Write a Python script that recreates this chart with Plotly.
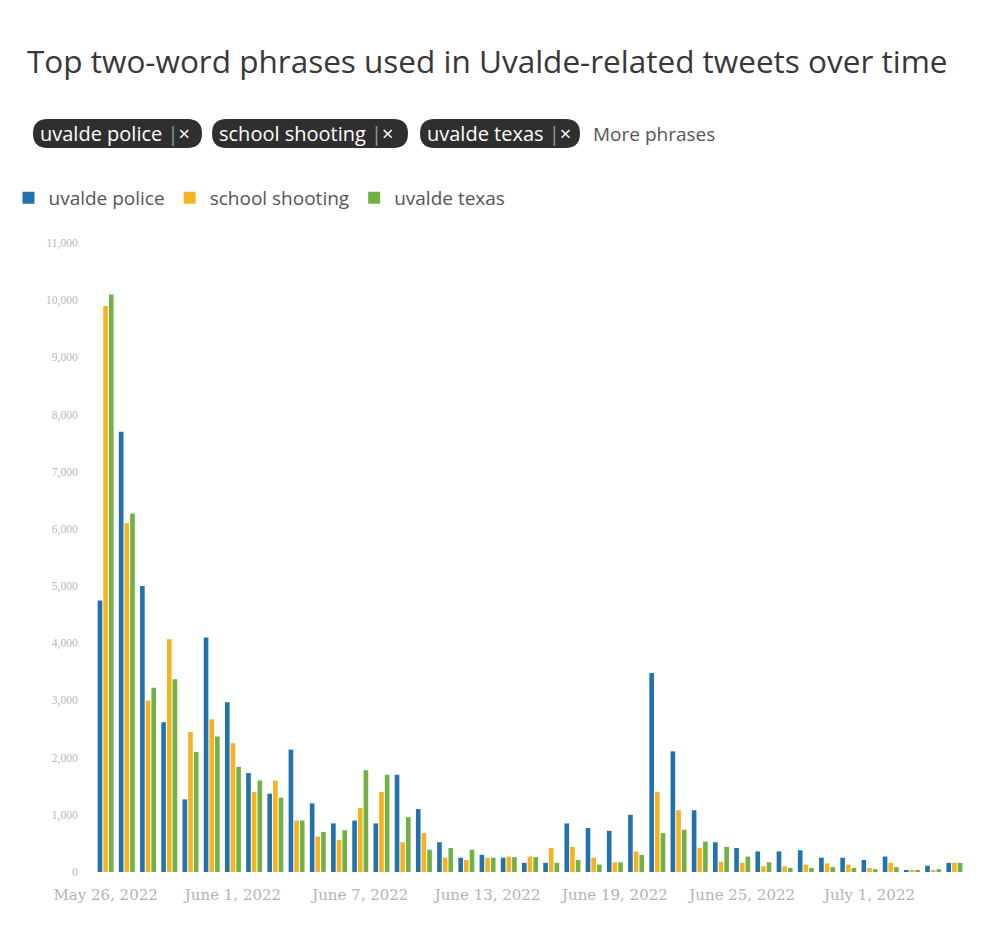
import plotly.graph_objects as go
import pandas as pd

# ---------------- data ----------------
dates = pd.date_range("2022-05-26", "2022-07-05", freq="D").strftime("%Y-%m-%d").tolist()

uvalde_police = [4750, 7700, 5000, 2620, 1270, 4100, 2970, 1730, 1370, 2140,
                 1200, 850, 900, 850, 1700, 1100, 520, 250, 300, 250,
                 160, 160, 850, 770, 720, 1000, 3480, 2110, 1080, 520,
                 420, 360, 360, 380, 250, 250, 210, 270, 25, 110, 160]
school_shooting = [9900, 6100, 3000, 4070, 2450, 2670, 2250, 1400, 1600, 900,
                   620, 560, 1120, 1400, 520, 680, 250, 210, 250, 270,
                   270, 420, 440, 250, 170, 360, 1400, 1080, 420, 180,
                   160, 100, 100, 130, 150, 130, 70, 160, 25, 25, 160]
uvalde_texas = [10100, 6270, 3220, 3370, 2100, 2370, 1840, 1600, 1300, 900,
                700, 730, 1780, 1700, 960, 390, 420, 390, 250, 260,
                260, 160, 210, 130, 170, 300, 680, 740, 530, 440,
                270, 170, 70, 70, 85, 70, 50, 85, 25, 50, 160]

series_names = ["uvalde police", "school shooting", "uvalde texas"]
series_values = [uvalde_police, school_shooting, uvalde_texas]
series_colors = ["#2272ad", "#f6b321", "#72b244"]

tick_dates = ["2022-05-26", "2022-06-01", "2022-06-07", "2022-06-13",
              "2022-06-19", "2022-06-25", "2022-07-01"]
tick_labels = ["May 26, 2022", "June 1, 2022", "June 7, 2022", "June 13, 2022",
               "June 19, 2022", "June 25, 2022", "July 1, 2022"]
y_ticks = list(range(0, 11001, 1000))

chip_labels = ["uvalde police", "school shooting", "uvalde texas"]
more_label = "More phrases"
title_text = "Top two-word phrases used in Uvalde-related tweets over time"

# ---------------- layout geometry ----------------
FW, FH = 1002, 930
OFF = 8  # page body margin
L, T = 95 - OFF, 243 - OFF
PR, PB = 965 - OFF, 872 - OFF
R, B = FW - PR, FH - PB
W = PR - L
H = PB - T

def px(x):
    """screen x -> paper x"""
    return (x - OFF - L) / W

def py(y):
    """screen y -> paper y"""
    return (PB - (y - OFF)) / H

FONT = "'Open Sans', sans-serif"
XFONT = "'DejaVu Serif', serif"
YFONT = "'Liberation Serif', serif"

fig = go.Figure()
for name, vals, col in zip(series_names, series_values, series_colors):
    fig.add_trace(go.Bar(x=dates, y=vals, name=name, marker_color=col,
                         marker_line_width=0))

# chips (rounded pills)
chips = [(33, 202), (212, 408), (420, 580)]
cy0, cy1 = 119, 148
shapes = []
annotations = []
for (x0p, x1p), lab in zip(chips, chip_labels):
    r = (cy1 - cy0) / 2
    x0, x1 = px(x0p), px(x1p)
    y0, y1 = py(cy1), py(cy0)
    ym = (y0 + y1) / 2
    rx = r / W
    path = (f"M {x0+rx},{y1} L {x1-rx},{y1} Q {x1},{y1} {x1},{ym} "
            f"Q {x1},{y0} {x1-rx},{y0} L {x0+rx},{y0} Q {x0},{y0} {x0},{ym} "
            f"Q {x0},{y1} {x0+rx},{y1} Z")
    shapes.append(dict(type="path", path=path, xref="paper", yref="paper",
                       fillcolor="#2f2f2f", line=dict(width=0), layer="above"))
    annotations.append(dict(
        x=px(x0p + 5), y=ym, xref="paper", yref="paper",
        xanchor="left", yanchor="middle", showarrow=False,
        text=f"{lab} <span style='color:#9a9a9a'>|</span>×",
        font=dict(family=FONT, size=20, color="white")))

annotations.append(dict(
    x=px(591), y=py(134), xref="paper", yref="paper",
    xanchor="left", yanchor="middle", showarrow=False,
    text=more_label, font=dict(family=FONT, size=19, color="#555555")))

fig.update_layout(
    width=FW, height=FH,
    margin=dict(l=L, r=R, t=T, b=B, autoexpand=False),
    paper_bgcolor="white", plot_bgcolor="white",
    barmode="group", bargap=0.2, bargroupgap=0.18,
    title=dict(text=title_text, x=(27 - OFF) / FW, xref="container", xanchor="left",
               y=1 - (62 - OFF) / FH, yref="container", yanchor="middle",
               font=dict(family=FONT, size=31.5, color="#383838")),
    legend=dict(orientation="h", x=px(8.5), y=py(198), xref="paper", yref="paper",
                xanchor="left", yanchor="middle",
                font=dict(family=FONT, size=19, color="#555555"),
                itemclick=False, itemdoubleclick=False, tracegroupgap=0),
    xaxis=dict(type="date",
               range=["2022-05-25 12:00", "2022-07-05 12:00"],
               tickmode="array", tickvals=tick_dates, ticktext=tick_labels,
               tickangle=0,
               showgrid=False, zeroline=False, showline=False,
               ticks="outside", ticklen=9, tickcolor="rgba(0,0,0,0)",
               tickfont=dict(family=XFONT, size=15, color="#b3b3b3")),
    yaxis=dict(range=[0, 11000], tickmode="array", tickvals=y_ticks,
               tickformat=",", showgrid=False, zeroline=False, showline=False,
               ticks="outside", ticklen=14, tickcolor="rgba(0,0,0,0)",
               tickfont=dict(family=YFONT, size=11.5, color="#b8b8b8")),
    shapes=shapes,
    annotations=annotations,
    font=dict(family=FONT),
)

fig.write_html("out.html")
